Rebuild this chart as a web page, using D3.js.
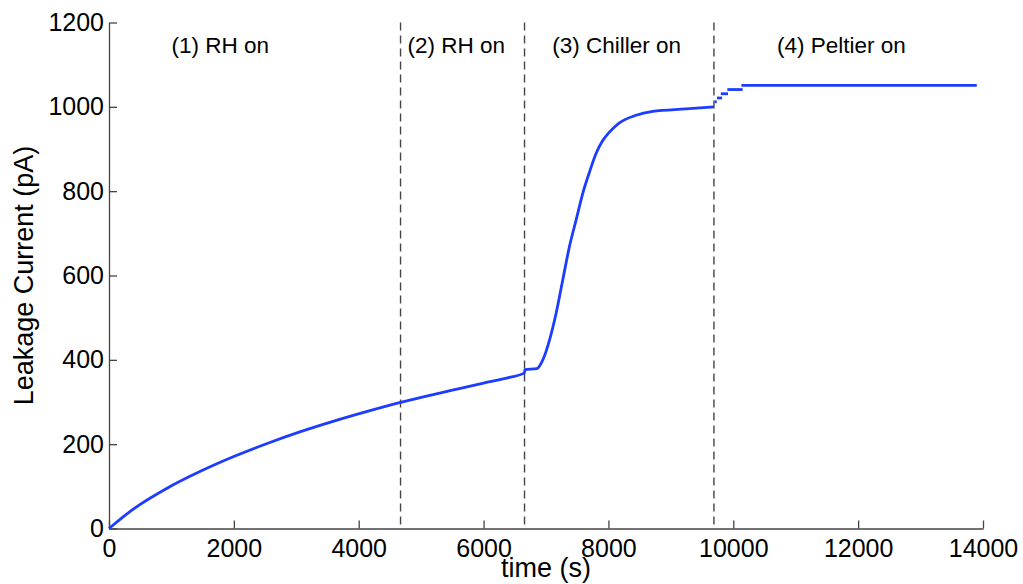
<!DOCTYPE html>
<html>
<head>
<meta charset="utf-8">
<script src="https://cdn.jsdelivr.net/npm/d3@7"></script>
<style>
  body { margin: 0; background: #fff; }
  text { font-family: "Liberation Sans", Helvetica, Arial, sans-serif; fill: #000; }
</style>
</head>
<body>
<div id="chart"></div>
<script>
const timeS = [0, 389, 923, 1456, 1989, 2523, 3056, 3589, 4123, 4670, 5000, 5500, 6000, 6400, 6656,
  6660, 6850, 6949, 7056, 7163, 7269, 7376, 7483, 7589, 7696, 7803, 7909, 8016, 8176, 8443, 8709, 9243, 9690];
const currentPA = [0, 46, 95, 135, 170, 201, 229, 254, 277, 299, 311, 328, 345, 358, 369,
  377, 379, 400, 447, 511, 590, 669, 732, 795, 845, 890, 920, 940, 962, 980, 989, 995, 1000];

// -- Peltier phase: small plateaus
const stepStart = [9700, 9740, 9800, 9905, 10130];
const stepEnd = [9735, 9820, 9915, 10150, 13900];
const stepLevel = [1012, 1021, 1031, 1041, 1051];

// -- phase boundaries and labels
const phaseTimes = [4670, 6656, 9690];
const phaseLabels = ['(1) RH on', '(2) RH on', '(3) Chiller on', '(4) Peltier on'];
const labelTimes = [1000, 4780, 7100, 10700];
const labelLevel = 1128;

const xTicks = [0, 2000, 4000, 6000, 8000, 10000, 12000, 14000];
const yTicks = [0, 200, 400, 600, 800, 1000, 1200];

const width = 1023, height = 584;
const margin = { left: 109, top: 22.5, right: 40, bottom: 55.5 };

const svg = d3.select('#chart').append('svg')
  .attr('width', width)
  .attr('height', height);

const x = d3.scaleLinear().domain([0, 14000]).range([margin.left, 983]);
const y = d3.scaleLinear().domain([0, 1200]).range([height - margin.bottom, margin.top]);

const blue = '#1c3cff';

// -- phase separators
svg.append('g')
  .selectAll('line')
  .data(phaseTimes)
  .join('line')
  .attr('x1', d => x(d)).attr('x2', d => x(d))
  .attr('y1', y(1200)).attr('y2', y(0))
  .attr('stroke', '#444')
  .attr('stroke-width', 1.4)
  .attr('stroke-dasharray', '8,5');

// -- axes, ticks inward
const xAxis = svg.append('g')
  .attr('transform', `translate(0,${y(0)})`)
  .call(d3.axisBottom(x).tickValues(xTicks).tickFormat(d3.format('d')).tickSize(-8).tickSizeOuter(0).tickPadding(11));
const yAxis = svg.append('g')
  .attr('transform', `translate(${x(0)},0)`)
  .call(d3.axisLeft(y).tickValues(yTicks).tickFormat(d3.format('d')).tickSize(-8).tickSizeOuter(0).tickPadding(5));

[xAxis, yAxis].forEach(g => {
  g.selectAll('path, line').attr('stroke', '#444').attr('stroke-width', 1.3);
  g.selectAll('text').style('font-size', '25px').attr('fill', '#000');
});

// -- curve
const line = d3.line().curve(d3.curveMonotoneX).x(d => x(d[0])).y(d => y(d[1]));
svg.append('path')
  .datum(d3.zip(timeS, currentPA))
  .attr('fill', 'none')
  .attr('stroke', blue)
  .attr('stroke-width', 2.8)
  .attr('stroke-linejoin', 'round')
  .attr('d', line);

svg.append('g')
  .selectAll('line')
  .data(d3.zip(stepStart, stepEnd, stepLevel))
  .join('line')
  .attr('x1', d => x(d[0])).attr('x2', d => x(d[1]))
  .attr('y1', d => y(d[2])).attr('y2', d => y(d[2]))
  .attr('stroke', blue)
  .attr('stroke-width', 2.8);

// -- phase labels
svg.append('g')
  .selectAll('text')
  .data(d3.zip(phaseLabels, labelTimes))
  .join('text')
  .attr('x', d => x(d[1]))
  .attr('y', y(labelLevel))
  .style('font-size', '22.5px')
  .text(d => d[0]);

// -- axis titles
svg.append('text')
  .attr('x', (x(0) + x(14000)) / 2)
  .attr('y', 577)
  .attr('text-anchor', 'middle')
  .style('font-size', '27px')
  .text('time (s)');

svg.append('text')
  .attr('transform', `translate(33,${(y(0) + y(1200)) / 2}) rotate(-90)`)
  .attr('text-anchor', 'middle')
  .style('font-size', '27px')
  .text('Leakage Current (pA)');
</script>
</body>
</html>
